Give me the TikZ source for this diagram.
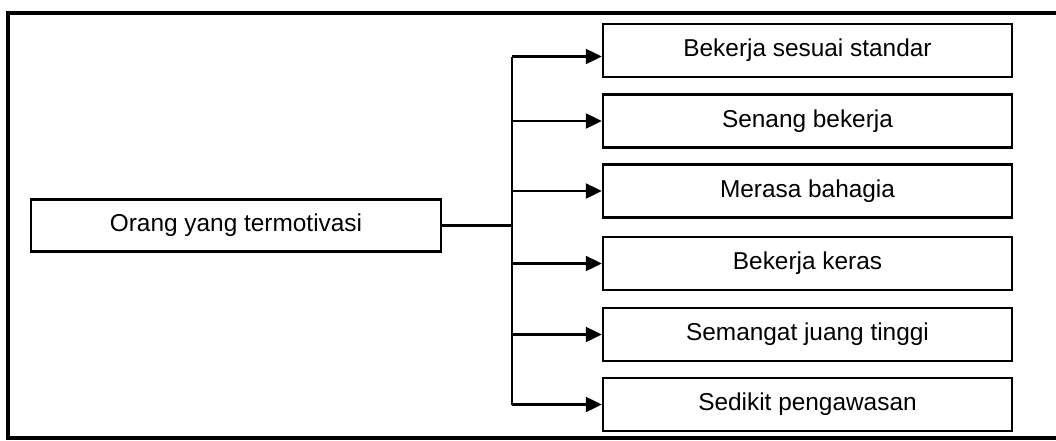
\documentclass[tikz,border=0pt]{standalone}
\usepackage{fontspec}
\setmainfont{Liberation Sans}
\usetikzlibrary{arrows.meta,calc}
\begin{document}
\begin{tikzpicture}[x=0.5pt,y=-0.5pt,
  box/.style={draw,line width=1.2pt,minimum width=204.5pt,minimum height=26.5pt,
    inner sep=0pt,font=\fontsize{12.2}{14}\selectfont},
  link/.style={line width=1.1pt},
  arr/.style={link,-{Triangle[length=8pt,width=7.5pt]}}]
\useasboundingbox (0,0) rectangle (1056,440);
% outer frame, open on the right
\draw[line width=1.6pt] (1056,13) -- (8,13) -- (8,438) -- (1056,438);
% source box
\node[box,minimum width=205pt,minimum height=26pt] (src) at (236,225.5) {Orang yang termotivasi};
% outcome boxes
\node[box] (b1) at (807.5,50.5)  {Bekerja sesuai standar};
\node[box] (b2) at (807.5,121)   {Senang bekerja};
\node[box] (b3) at (807.5,191)   {Merasa bahagia};
\node[box] (b4) at (807.5,263.5) {Bekerja keras};
\node[box] (b5) at (807.5,334.5) {Semangat juang tinggi};
\node[box] (b6) at (807.5,404.5) {Sedikit pengawasan};
% branching connectors
\coordinate (trunk) at (512,0);
\coordinate (a1) at ($(b1.west)+(0,6)$);
\draw[link] (src.east) -- (src.east -| trunk);
\draw[link] (trunk |- a1) -- (trunk |- b6.west);
\draw[arr] (trunk |- a1) -- (a1);
\foreach \b in {b2,b3,b4,b5,b6}
  \draw[arr] (trunk |- \b.west) -- (\b.west);
\end{tikzpicture}
\end{document}
